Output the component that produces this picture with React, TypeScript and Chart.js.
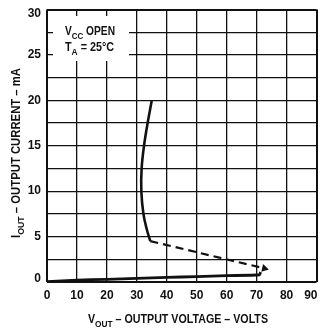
import React, { useEffect, useRef } from 'react';
import { Chart, registerables } from 'chart.js';

Chart.register(...registerables);

// Main (solid) curve: output voltage vs output current
const curveV = [35.0, 33.6, 32.4, 31.6, 31.5, 32.2, 33.4, 34.5];
const curveI = [20.0, 17.5, 15.0, 12.5, 10.0, 7.5, 5.7, 4.5];
// Dashed transition
const dashV = [34.5, 72.6];
const dashI = [4.5, 1.5];
// Lower (solid) curve
const baseV = [0, 10, 20, 30, 40, 50, 60, 71, 71.3];
const baseI = [0.05, 0.2, 0.3, 0.4, 0.5, 0.6, 0.7, 0.8, 1.1];

const xTicks = [0, 10, 20, 30, 40, 50, 60, 70, 80, 90];
const yTicks = [0, 5, 10, 15, 20, 25, 30];

const xTitle = [{ t: 'V' }, { t: 'OUT', sub: true }, { t: ' \u2013 OUTPUT VOLTAGE \u2013 VOLTS' }];
const yTitle = [{ t: 'I' }, { t: 'OUT', sub: true }, { t: ' \u2013 OUTPUT CURRENT \u2013 mA' }];
const note1 = [{ t: 'V' }, { t: 'CC', sub: true }, { t: ' OPEN' }];
const note2 = [{ t: 'T' }, { t: 'A', sub: true }, { t: ' = 25\u00B0C' }];

const INK = '#111';
const FONT = "'Liberation Sans Narrow', 'Liberation Sans', sans-serif";

type Part = { t: string; sub?: boolean };

function richWidth(ctx: CanvasRenderingContext2D, parts: Part[], size: number, weight: string) {
  let w = 0;
  for (const p of parts) {
    ctx.font = `${weight} ${p.sub ? size * 0.78 : size}px ${FONT}`;
    w += ctx.measureText(p.t).width;
  }
  return w;
}

// Draw text with subscripts, horizontally fitted to a target width
function drawRich(
  ctx: CanvasRenderingContext2D,
  parts: Part[],
  x: number,
  y: number,
  size: number,
  weight: string,
  align: 'left' | 'center',
  target: number
) {
  const w = richWidth(ctx, parts, size, weight);
  const k = target / w;
  ctx.save();
  ctx.translate(align === 'center' ? x - target / 2 : x, y);
  ctx.scale(k, 1);
  let cx = 0;
  ctx.textBaseline = 'alphabetic';
  ctx.textAlign = 'left';
  for (const p of parts) {
    const s = p.sub ? size * 0.78 : size;
    ctx.font = `${weight} ${s}px ${FONT}`;
    ctx.fillText(p.t, cx, p.sub ? size * 0.3 : 0);
    cx += ctx.measureText(p.t).width;
  }
  ctx.restore();
}

const textPlugin = {
  id: 'textPlugin',
  beforeDatasetsDraw(chart: any) {
    const ctx: CanvasRenderingContext2D = chart.ctx;
    ctx.save();
    ctx.fillStyle = '#fff';
    ctx.fillRect(53, 16, 76, 45);
    ctx.fillStyle = INK;
    drawRich(ctx, note1, 65, 35, 12, 'bold', 'left', 50);
    drawRich(ctx, note2, 65, 51, 12, 'bold', 'left', 49);
    ctx.restore();
  },
  afterDraw(chart: any) {
    const ctx: CanvasRenderingContext2D = chart.ctx;
    const xs = chart.scales.x;
    const ys = chart.scales.y;
    ctx.save();
    ctx.fillStyle = INK;
    ctx.font = `bold 12px 'Liberation Sans', sans-serif`;
    ctx.textBaseline = 'middle';
    // x tick labels
    xTicks.forEach((v, i) => {
      const px = xs.getPixelForValue(v);
      if (i === xTicks.length - 1) {
        ctx.textAlign = 'right';
        ctx.fillText(String(v), px + 1, 296);
      } else {
        ctx.textAlign = 'center';
        ctx.fillText(String(v), px, 296);
      }
    });
    // y tick labels
    ctx.textAlign = 'right';
    yTicks.forEach((v) => {
      let py = ys.getPixelForValue(v);
      py = Math.min(Math.max(py, 14), 279);
      ctx.fillText(String(v), 41, py);
    });
    // axis titles
    drawRich(ctx, xTitle, 178, 323, 12, 'bold', 'center', 180);
    ctx.translate(20, 153);
    ctx.rotate(-Math.PI / 2);
    drawRich(ctx, yTitle, 0, 0, 12, 'bold', 'center', 170);
    ctx.restore();
  },
};

const gridWidth = (ctx: any, edgeA: number, edgeB: number) =>
  ctx.tick && (ctx.tick.value === edgeA || ctx.tick.value === edgeB) ? 2 : 1.3;

export default function App() {
  const ref = useRef<HTMLCanvasElement>(null);
  useEffect(() => {
    if (!ref.current) return;
    const chart = new Chart(ref.current, {
      type: 'line',
      data: {
        datasets: [
          {
            data: curveV.map((v, i) => ({ x: v, y: curveI[i] })),
            borderColor: INK,
            borderWidth: 2.6,
            pointRadius: 0,
            tension: 0.4,
            fill: false,
          },
          {
            data: dashV.map((v, i) => ({ x: v, y: dashI[i] })),
            borderColor: INK,
            backgroundColor: INK,
            borderWidth: 2.2,
            borderDash: [8, 5],
            pointRadius: [0, 4.5],
            pointStyle: 'triangle',
            pointRotation: 103,
            pointBorderWidth: 0,
            pointBackgroundColor: INK,
            tension: 0,
            fill: false,
          },
          {
            data: baseV.map((v, i) => ({ x: v, y: baseI[i] })),
            borderColor: INK,
            borderWidth: 2.8,
            pointRadius: 0,
            tension: 0.2,
            fill: false,
          },
        ],
      } as any,
      options: {
        animation: false,
        responsive: true,
        maintainAspectRatio: false,
        parsing: false as any,
        layout: { padding: { top: 9.5, right: 3, left: 0, bottom: 0 } },
        plugins: { legend: { display: false }, tooltip: { enabled: false } },
        scales: {
          x: {
            type: 'linear',
            min: 0,
            max: 90,
            ticks: { stepSize: 10, display: false },
            grid: { color: INK, lineWidth: (c: any) => gridWidth(c, 0, 90), drawTicks: false },
            border: { display: false },
            afterFit: (s: any) => {
              s.height = 48;
              s.paddingLeft = 0;
              s.paddingRight = 0;
            },
          },
          y: {
            type: 'linear',
            min: 0,
            max: 30,
            ticks: { stepSize: 2.5, display: false },
            grid: { color: INK, lineWidth: (c: any) => gridWidth(c, 0, 30), drawTicks: false },
            border: { display: false },
            afterFit: (s: any) => {
              s.width = 47;
              s.paddingTop = 0;
              s.paddingBottom = 0;
            },
          },
        },
      } as any,
      plugins: [textPlugin],
    });
    return () => chart.destroy();
  }, []);
  return (
    <div style={{ position: 'absolute', left: 0, top: 0, width: 321, height: 330, background: '#fff' }}>
      <canvas ref={ref} />
    </div>
  );
}
